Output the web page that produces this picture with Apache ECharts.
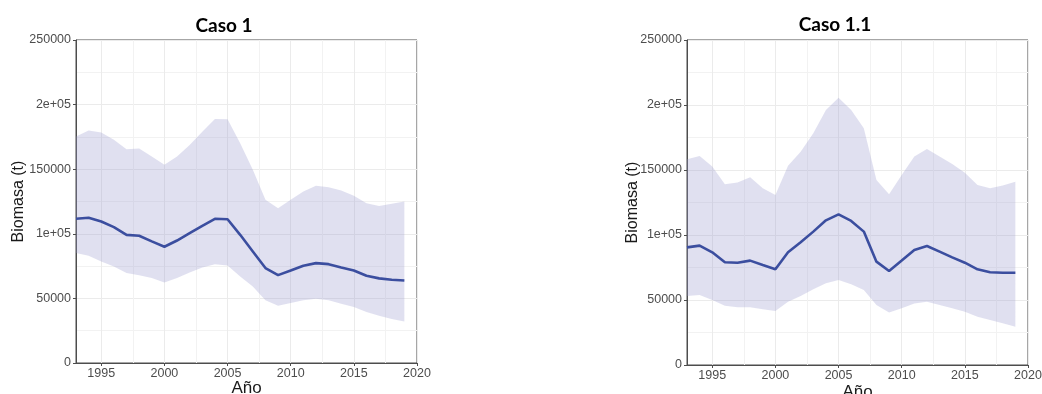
<!DOCTYPE html>
<html>
<head>
<meta charset="utf-8">
<script src="https://cdn.jsdelivr.net/npm/echarts@6/dist/echarts.min.js"></script>
<style>
  html, body { margin: 0; padding: 0; background: #ffffff; }
  #chart { width: 1042px; height: 394px; }
</style>
</head>
<body>
<div id="chart"></div>
<script>
// Years of the assessment
const years = [1993, 1994, 1995, 1996, 1997, 1998, 1999, 2000, 2001, 2002, 2003, 2004, 2005, 2006,
               2007, 2008, 2009, 2010, 2011, 2012, 2013, 2014, 2015, 2016, 2017, 2018, 2019];

// Caso 1: biomass estimate with lower/upper interval (t)
const caso1Mean = [111600, 112400, 109500, 105200, 99200, 98500, 94100, 90000, 94800, 100500, 106200, 111600, 111300, 99200,
                   86300, 73500, 68000, 71600, 75300, 77300, 76500, 74000, 71600, 67500, 65500, 64400, 63900];
const caso1Upper = [175300, 179900, 178400, 172700, 165500, 166000, 159800, 153400, 159800, 168800, 178900, 188900, 188700, 170100,
                    149500, 126300, 119800, 126300, 132700, 137100, 136100, 133500, 129400, 123700, 121600, 123200, 125000];
const caso1Lower = [85100, 83000, 78600, 74700, 69600, 68000, 65700, 62400, 65700, 70100, 74000, 76500, 75500, 67000,
                    59300, 48500, 44300, 46400, 48500, 49700, 48500, 45900, 43300, 39400, 36600, 34000, 32200];

// Caso 1.1: biomass estimate with lower/upper interval (t)
const caso11Mean = [90500, 91800, 86700, 79000, 78700, 80300, 76900, 73600, 86700, 94400, 102600, 111300, 115900, 110800,
                    102600, 79500, 72300, 80300, 88500, 91500, 87200, 82800, 78700, 73600, 71300, 71000, 71000];
const caso11Upper = [158200, 160800, 152600, 139000, 140300, 144400, 135900, 130800, 153300, 164100, 178200, 196200, 205600, 196200,
                     182100, 142300, 131300, 146200, 160300, 166200, 160300, 154600, 147900, 138500, 135900, 138000, 141000];
const caso11Lower = [53100, 53800, 50000, 45600, 44400, 44400, 42800, 41500, 48700, 53100, 58200, 62800, 65400, 62100,
                     57700, 46200, 40300, 43600, 47400, 48700, 46200, 43600, 41000, 37200, 34600, 32100, 29500];

// Axis ticks and their labels
const xTicks = [1995, 2000, 2005, 2010, 2015, 2020];
const xMinorGrid = [1997.5, 2002.5, 2007.5, 2012.5, 2017.5];
const yTicks = [0, 50000, 100000, 150000, 200000, 250000];
const yTickLabels = ['0', '50000', '1e+05', '150000', '2e+05', '250000'];

const panelTitles = ['Caso 1', 'Caso 1.1'];
const xTitle = 'Año';
const yTitle = 'Biomasa (t)';

const BAND = 'rgba(153, 153, 204, 0.3)';
const LINE = '#3b4e9f';
const GRID_LINE = '#ebebeb';
const BORDER = '#4d4d4d';
const TEXT = '#4d4d4d';
const FONT = '"Liberation Sans", Arial, sans-serif';

const grids = [
  { left: 76, top: 40, width: 341, height: 323 },
  { left: 687, top: 40, width: 341, height: 325 }
];

function xAxisFor(i, nameGap) {
  return {
    type: 'value', gridIndex: i, min: 1993, max: 2020,
    name: xTitle, nameLocation: 'middle', nameGap: nameGap, nameMoveOverlap: false,
    nameTextStyle: { color: '#1a1a1a', fontSize: 17, fontFamily: FONT },
    axisLine: { show: true, lineStyle: { color: BORDER, width: 1 } },
    axisTick: { show: true, length: 3, lineStyle: { color: BORDER }, customValues: xTicks },
    axisLabel: { color: TEXT, fontSize: 12.5, fontFamily: FONT, margin: 4, customValues: xTicks,
                 formatter: v => String(v) },
    splitLine: { show: true, lineStyle: { color: GRID_LINE, width: 1 } }
  };
}

function yAxisFor(i, nameGap) {
  return {
    type: 'value', gridIndex: i, min: 0, max: 250000, interval: 50000,
    name: yTitle, nameLocation: 'middle', nameGap: nameGap, nameRotate: 90, nameMoveOverlap: false,
    nameTextStyle: { color: '#1a1a1a', fontSize: 16, fontFamily: FONT },
    axisLine: { show: true, lineStyle: { color: BORDER, width: 1 } },
    axisTick: { show: true, length: 3, lineStyle: { color: BORDER } },
    axisLabel: { color: TEXT, fontSize: 12.5, fontFamily: FONT, margin: 5,
                 formatter: v => yTickLabels[yTicks.indexOf(v)] },
    splitLine: { show: true, lineStyle: { color: GRID_LINE, width: 1 } },
    minorTick: { show: false, splitNumber: 2 },
    minorSplitLine: { show: true, lineStyle: { color: '#f2f2f2', width: 1 } }
  };
}

// Shaded interval drawn as a polygon through the axis scales
function bandSeries(i, lower, upper) {
  return {
    type: 'custom', xAxisIndex: i, yAxisIndex: i, silent: true, z: 2,
    data: years.map((y, k) => [y, lower[k], upper[k]]),
    encode: { x: 0, y: [1, 2] },
    renderItem: function (params, api) {
      if (params.dataIndex !== 0) return null;
      const pts = [];
      for (let k = 0; k < years.length; k++) pts.push(api.coord([years[k], upper[k]]));
      for (let k = years.length - 1; k >= 0; k--) pts.push(api.coord([years[k], lower[k]]));
      return { type: 'polygon', shape: { points: pts }, style: { fill: BAND } };
    }
  };
}

function meanSeries(i, mean) {
  return {
    type: 'line', xAxisIndex: i, yAxisIndex: i, z: 3, silent: true,
    data: years.map((y, k) => [y, mean[k]]),
    showSymbol: false, symbol: 'none',
    lineStyle: { color: LINE, width: 2.6 },
    markLine: {
      silent: true, symbol: 'none', label: { show: false }, z: 1,
      lineStyle: { color: '#f2f2f2', width: 1, type: 'solid' },
      data: xMinorGrid.map(v => ({ xAxis: v }))
    }
  };
}

const chart = echarts.init(document.getElementById('chart'), null, { renderer: 'canvas' });
chart.setOption({
  backgroundColor: '#ffffff',
  animation: false,
  title: [
    { text: panelTitles[0], left: 219, top: 11, textAlign: 'center',
      textStyle: { fontFamily: 'Lato, "Open Sans", sans-serif', fontWeight: 'bold', fontSize: 19, color: '#000' } },
    { text: panelTitles[1], left: 830, top: 10, textAlign: 'center',
      textStyle: { fontFamily: 'Lato, "Open Sans", sans-serif', fontWeight: 'bold', fontSize: 19, color: '#000' } }
  ],
  grid: grids.map(g => Object.assign({
    show: true, borderColor: BORDER, borderWidth: 1, backgroundColor: 'transparent',
    containLabel: false, outerBoundsMode: 'none'
  }, g)),
  xAxis: [xAxisFor(0, 17), xAxisFor(1, 19)],
  yAxis: [yAxisFor(0, 49), yAxisFor(1, 46)],
  series: [
    bandSeries(0, caso1Lower, caso1Upper),
    meanSeries(0, caso1Mean),
    bandSeries(1, caso11Lower, caso11Upper),
    meanSeries(1, caso11Mean)
  ]
});
</script>
</body>
</html>
